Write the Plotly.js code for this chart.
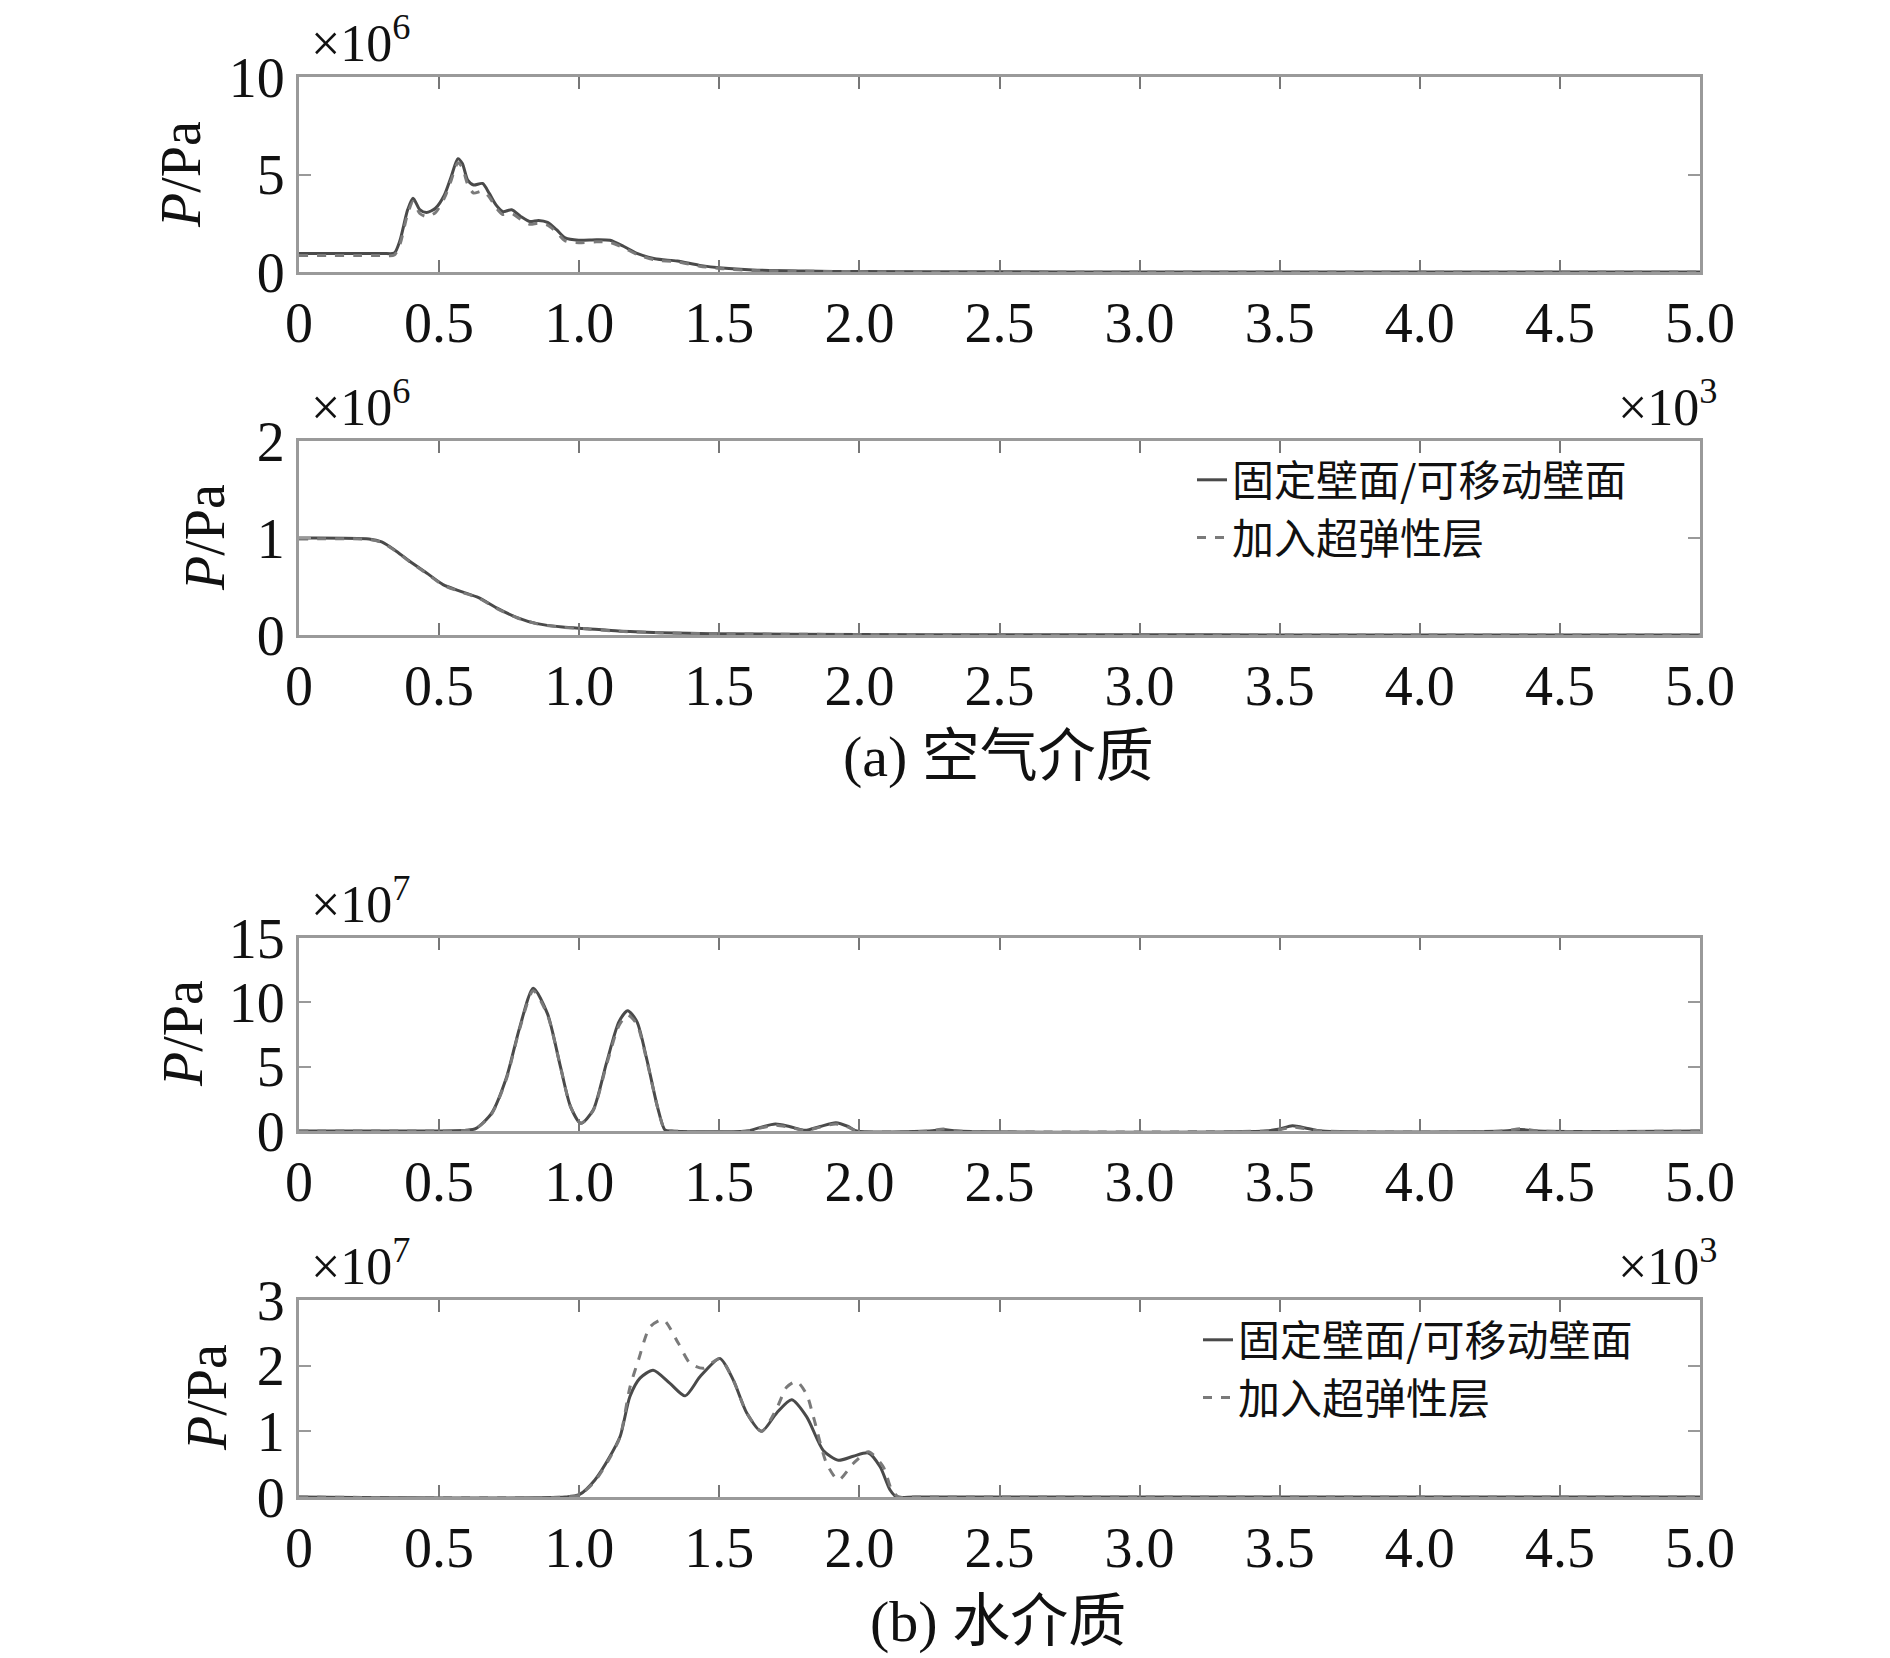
<!DOCTYPE html>
<html>
<head>
<meta charset="utf-8">
<script src="https://cdn.plot.ly/plotly-3.0.1.min.js"></script>
<style>html,body{margin:0;padding:0;background:#fff;}#chart{width:1890px;height:1658px;}</style>
</head>
<body>
<div id="chart"></div>
<script>
// ---- Data (x in 10^3, pressure in 10^6 Pa for air, 10^7 Pa for water) ----
const xTickVals = [0, 0.5, 1.0, 1.5, 2.0, 2.5, 3.0, 3.5, 4.0, 4.5, 5.0];
const xTickText = ["0", "0.5", "1.0", "1.5", "2.0", "2.5", "3.0", "3.5", "4.0", "4.5", "5.0"];

const seriesNames = ["固定壁面/可移动壁面", "加入超弹性层"];

// (a) air, upper panel
const air1X = [0,0.1,0.2,0.3,0.34,0.36,0.388,0.407,0.431,0.455,0.487,0.519,0.543,0.567,0.583,0.602,0.623,0.655,0.679,0.703,0.727,0.759,0.791,0.823,0.855,0.887,0.919,0.95,0.998,1.062,1.11,1.158,1.206,1.27,1.35,1.43,1.51,1.62,1.8,2.0,2.5,3,3.5,4,4.5,5];
const air1Solid = [0.95,0.95,0.95,0.95,0.97,1.6,3.2,3.78,3.2,3.05,3.27,3.95,4.88,5.81,5.56,4.71,4.46,4.54,4.03,3.44,3.1,3.19,2.85,2.59,2.64,2.54,2.17,1.75,1.63,1.66,1.63,1.32,0.95,0.68,0.56,0.34,0.2,0.1,0.05,0.02,0.01,0,0,0,0,0];
const air1Dash = [0.85,0.85,0.85,0.85,0.87,1.4,3.0,3.6,3.0,2.85,3.05,3.8,4.7,5.6,5.35,4.5,4.05,4.15,3.85,3.3,2.95,3.0,2.7,2.45,2.5,2.4,2.05,1.6,1.5,1.55,1.52,1.25,0.9,0.62,0.52,0.3,0.17,0.08,0.04,0.02,0.01,0,0,0,0,0];

// (a) air, lower panel
const air2X = [0,0.25,0.295,0.34,0.395,0.46,0.514,0.577,0.641,0.705,0.778,0.85,0.94,1.03,1.14,1.29,1.47,2.0,2.5,3,3.5,4,4.5,5];
const air2Solid = [1.0,0.99,0.96,0.88,0.76,0.63,0.52,0.45,0.385,0.28,0.18,0.117,0.082,0.065,0.04,0.024,0.014,0.005,0.003,0.002,0.001,0,0,0];
const air2Dash = [0.99,0.985,0.955,0.875,0.755,0.625,0.515,0.445,0.38,0.275,0.178,0.115,0.08,0.063,0.039,0.023,0.013,0.005,0.003,0.002,0.001,0,0,0];

// (b) water, upper panel
const water1X = [0,0.5,0.6,0.632,0.687,0.741,0.787,0.836,0.887,0.933,0.969,1.006,1.05,1.097,1.142,1.173,1.206,1.242,1.279,1.306,1.33,1.6,1.65,1.70,1.75,1.806,1.86,1.916,1.96,1.99,2.25,2.3,2.35,3.45,3.5,3.545,3.6,3.65,4.3,4.36,4.42,5];
const water1Solid = [0,0,0.05,0.2,1.37,4.2,8.0,11.1,9.1,5.0,1.9,0.6,1.63,5.26,8.5,9.35,8.5,5.5,1.9,0.08,0,0,0.3,0.54,0.35,0.05,0.35,0.65,0.35,0,0,0.12,0,0,0.15,0.4,0.2,0,0,0.12,0,0];
const water1Dash = [0,0,0.05,0.2,1.3,4.1,7.9,10.9,9.0,5.0,1.9,0.6,1.6,5.1,8.2,9.0,8.3,5.4,1.9,0.08,0,0,0.25,0.45,0.3,0.05,0.3,0.55,0.3,0,0,0.15,0,0,0.1,0.3,0.15,0,0,0.18,0,0];

// (b) water, lower panel
const water2SolidX = [0,0.95,1.0,1.056,1.11,1.146,1.181,1.217,1.264,1.324,1.378,1.431,1.502,1.55,1.598,1.651,1.705,1.758,1.812,1.871,1.925,1.978,2.032,2.074,2.109,2.133,2.2,3,4,5];
const water2Solid = [0,0,0.035,0.26,0.62,0.92,1.53,1.81,1.93,1.73,1.54,1.83,2.11,1.78,1.28,1.0,1.28,1.48,1.22,0.71,0.56,0.62,0.67,0.46,0.11,0,0,0,0,0];
const water2DashX = [0,0.95,1.0,1.056,1.11,1.146,1.181,1.211,1.253,1.300,1.354,1.395,1.443,1.502,1.55,1.598,1.651,1.705,1.74,1.776,1.812,1.836,1.883,1.925,1.978,2.032,2.085,2.115,2.14,2.2,3,4,5];
const water2Dash = [0,0,0.03,0.24,0.6,0.92,1.67,2.08,2.59,2.70,2.34,2.04,1.96,2.11,1.78,1.28,1.0,1.35,1.67,1.76,1.56,1.22,0.51,0.26,0.51,0.69,0.46,0.11,0,0,0,0,0];

const yTicks1 = [0, 5, 10];
const yTicks2 = [0, 1, 2];
const yTicks3 = [0, 5, 10, 15];
const yTicks4 = [0, 1, 2, 3];

// ---- Styling ----
const W = 1890, H = 1658;
const serif = "Liberation Serif, Times New Roman, Noto Sans CJK SC, serif";
const cjk = "Noto Sans CJK SC, sans-serif";
const solidLine = {color: "#4a4a4a", width: 3, shape: "spline", smoothing: 0.7};
const dashLine = {color: "#7a7a7a", width: 3, dash: "dash", shape: "spline", smoothing: 0.7};

function px2x(p) { return p / W; }
function px2y(p) { return 1 - p / H; }

const xDom = [px2x(299), px2x(1700)];
const panels = [
  {top: 77, bot: 272},
  {top: 441, bot: 635},
  {top: 938, bot: 1131},
  {top: 1300, bot: 1497}
];

function xAxis(anchor) {
  return {
    domain: xDom, anchor: anchor, range: [0, 5],
    tickmode: "array", tickvals: xTickVals, ticktext: xTickText,
    ticks: "inside", ticklen: 12, tickwidth: 2, tickcolor: "#777",
    showline: true, linecolor: "#9a9a9a", linewidth: 3, mirror: "ticks",
    showgrid: false, zeroline: false,
    tickfont: {family: serif, size: 56, color: "#111"}
  };
}
function yAxis(anchor, i, rng, tv) {
  return {
    domain: [px2y(panels[i].bot), px2y(panels[i].top)], anchor: anchor, range: rng,
    tickmode: "array", tickvals: tv, ticktext: tv.map(String),
    ticks: "inside", ticklen: 12, tickwidth: 2, tickcolor: "#999",
    showline: true, linecolor: "#9a9a9a", linewidth: 3, mirror: "ticks",
    showgrid: false, zeroline: false,
    tickfont: {family: serif, size: 56, color: "#111"}
  };
}

const traces = [
  {x: air1X, y: air1Solid, xaxis: "x", yaxis: "y", mode: "lines", line: solidLine, showlegend: false, name: seriesNames[0]},
  {x: air1X, y: air1Dash, xaxis: "x", yaxis: "y", mode: "lines", line: dashLine, showlegend: false, name: seriesNames[1]},
  {x: air2X, y: air2Solid, xaxis: "x2", yaxis: "y2", mode: "lines", line: solidLine, name: seriesNames[0], legend: "legend"},
  {x: air2X, y: air2Dash, xaxis: "x2", yaxis: "y2", mode: "lines", line: dashLine, name: seriesNames[1], legend: "legend"},
  {x: water1X, y: water1Solid, xaxis: "x3", yaxis: "y3", mode: "lines", line: solidLine, showlegend: false, name: seriesNames[0]},
  {x: water1X, y: water1Dash, xaxis: "x3", yaxis: "y3", mode: "lines", line: dashLine, showlegend: false, name: seriesNames[1]},
  {x: water2SolidX, y: water2Solid, xaxis: "x4", yaxis: "y4", mode: "lines", line: solidLine, name: seriesNames[0], legend: "legend2"},
  {x: water2DashX, y: water2Dash, xaxis: "x4", yaxis: "y4", mode: "lines", line: dashLine, name: seriesNames[1], legend: "legend2"}
];

function ann(text, xp, yp, size, opts) {
  return Object.assign({
    text: text, xref: "paper", yref: "paper", x: px2x(xp), y: px2y(yp),
    showarrow: false, font: {family: serif, size: size, color: "#111"}
  }, opts || {});
}

const annotations = [
  ann("×10<sup>6</sup>", 309, 74, 52, {xanchor: "left", yanchor: "bottom"}),
  ann("×10<sup>6</sup>", 309, 438, 52, {xanchor: "left", yanchor: "bottom"}),
  ann("×10<sup>3</sup>", 1720, 438, 52, {xanchor: "right", yanchor: "bottom"}),
  ann("×10<sup>7</sup>", 309, 935, 52, {xanchor: "left", yanchor: "bottom"}),
  ann("×10<sup>7</sup>", 309, 1297, 52, {xanchor: "left", yanchor: "bottom"}),
  ann("×10<sup>3</sup>", 1720, 1297, 52, {xanchor: "right", yanchor: "bottom"}),
  ann("<i>P</i>/Pa", 181, 175, 56, {textangle: -90, xanchor: "center", yanchor: "middle"}),
  ann("<i>P</i>/Pa", 205, 538, 56, {textangle: -90, xanchor: "center", yanchor: "middle"}),
  ann("<i>P</i>/Pa", 183, 1034, 56, {textangle: -90, xanchor: "center", yanchor: "middle"}),
  ann("<i>P</i>/Pa", 207, 1398, 56, {textangle: -90, xanchor: "center", yanchor: "middle"}),
  ann("(a) 空气介质", 998, 757, 58, {xanchor: "center", yanchor: "middle"}),
  ann("(b) 水介质", 998, 1621, 58, {xanchor: "center", yanchor: "middle"})
];

const legendStyle = {
  xanchor: "left", yanchor: "top", bgcolor: "rgba(0,0,0,0)", borderwidth: 0,
  font: {family: cjk, size: 42, color: "#111"}, tracegroupgap: 0, itemwidth: 30
};

const layout = {
  width: W, height: H,
  margin: {l: 0, r: 0, t: 0, b: 0},
  paper_bgcolor: "#fff", plot_bgcolor: "#fff",
  showlegend: true,
  xaxis: xAxis("y"), yaxis: yAxis("x", 0, [0, 10], yTicks1),
  xaxis2: xAxis("y2"), yaxis2: yAxis("x2", 1, [0, 2], yTicks2),
  xaxis3: xAxis("y3"), yaxis3: yAxis("x3", 2, [0, 15], yTicks3),
  xaxis4: xAxis("y4"), yaxis4: yAxis("x4", 3, [0, 3], yTicks4),
  legend: Object.assign({x: px2x(1192), y: px2y(446)}, legendStyle),
  legend2: Object.assign({x: px2x(1198), y: px2y(1306)}, legendStyle),
  annotations: annotations
};

Plotly.newPlot("chart", traces, layout, {staticPlot: true, displayModeBar: false});
</script>
</body>
</html>
